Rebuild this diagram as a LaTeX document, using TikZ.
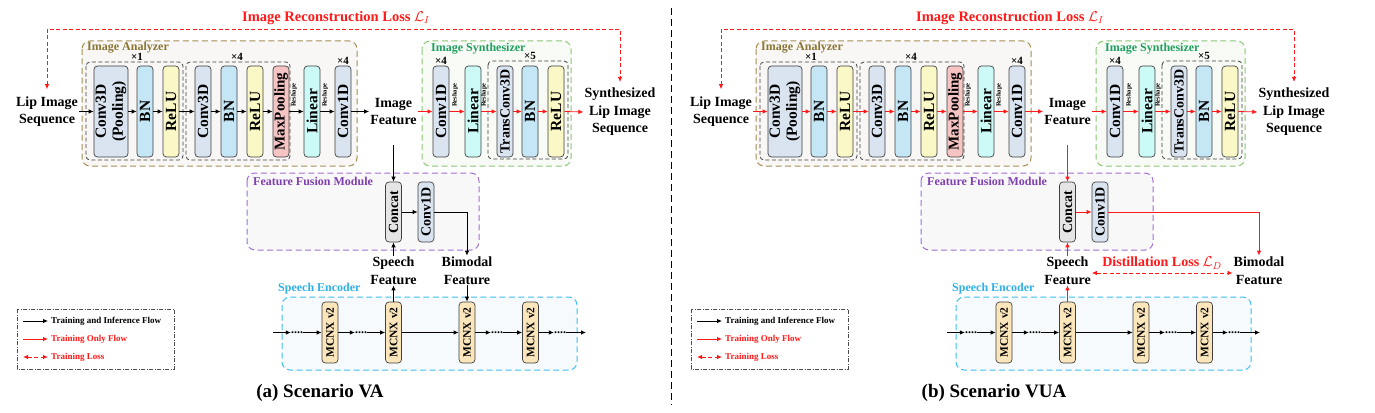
\documentclass[tikz,border=0pt]{standalone}
\usepackage{fontspec}
\setmainfont{Liberation Serif}
\usepackage{graphicx}
\usetikzlibrary{arrows.meta}
\definecolor{lossred}{RGB}{255,25,25}
\definecolor{convc}{HTML}{DAE3F0}
\definecolor{bnc}{HTML}{C5E6F5}
\definecolor{reluc}{HTML}{FAF8C6}
\definecolor{mpc}{HTML}{F7C4C4}
\definecolor{linc}{HTML}{CCFAF7}
\definecolor{catc}{HTML}{E5E5E5}
\definecolor{mcnxc}{HTML}{FBE6BC}
\definecolor{iacol}{HTML}{A38F55}
\definecolor{iatext}{HTML}{8A7535}
\definecolor{iafill}{HTML}{F8F7F5}
\definecolor{isbord}{HTML}{8CC878}
\definecolor{istext}{HTML}{20A060}
\definecolor{isfill}{HTML}{F7FAF5}
\definecolor{ffbord}{HTML}{A070D0}
\definecolor{fftext}{HTML}{8040B0}
\definecolor{fffill}{HTML}{F9F8F9}
\definecolor{sebord}{HTML}{40C0F0}
\definecolor{setext}{HTML}{30B0E8}
\definecolor{sefill}{HTML}{F6FAFC}
\newcommand\fsz[2]{\fontsize{#1}{#2}\selectfont}
\newcommand\vtext[1]{\rotatebox{90}{#1}}
\tikzset{
 blk/.style={draw=black!75, rounded corners=3.5pt, line width=0.7pt, inner sep=0pt, minimum width=16pt, minimum height=91pt, font=\bfseries\fsz{15.5}{17}},
 fblk/.style={blk, minimum height=60pt, font=\bfseries\fsz{14}{16}},
 mblk/.style={blk, minimum height=61pt, fill=mcnxc, font=\bfseries\fsz{11.5}{13}},
 grp/.style={draw=black!75, dash pattern=on 4pt off 2.5pt, rounded corners=4pt, line width=0.8pt},
 outer/.style={dash pattern=on 6pt off 3.5pt, rounded corners=8pt, line width=1pt},
 flow/.style={draw=black, line width=0.8pt, ->},
 tflow/.style={draw=lossred, line width=0.8pt, ->},
 loss/.style={draw=lossred, line width=0.8pt, dash pattern=on 4pt off 2.5pt, <->},
 txt/.style={font=\bfseries\fsz{14}{17.5}, align=center, inner sep=1pt},
 lbl/.style={font=\bfseries\fsz{12}{13}, anchor=west, inner sep=0pt},
 times/.style={font=\bfseries\fsz{11}{12}, anchor=south, inner sep=0.5pt},
 resh/.style={font=\bfseries\fsz{6.5}{7}, inner sep=0pt},
 dots/.style={font=\bfseries\fsz{12}{12}, inner sep=0pt},
 legtxt/.style={font=\bfseries\fsz{9}{10}, anchor=west, inner sep=0pt},
}
\newcommand\panel[3]{%
 \node[font=\bfseries\fsz{14.5}{16}, text=lossred, inner sep=0pt] (#1-losst) at (336,18) {Image Reconstruction Loss $\mathcal{L}_{I}$};
 \coordinate (#1-lossy) at (0,29);
 \draw[outer, draw=iacol, fill=iafill] (82,41) rectangle (357,166);
 \node[lbl, text=iatext] (#1-ial) at (87,48) {Image Analyzer};
 \draw[outer, draw=isbord, fill=isfill] (422,41) rectangle (571,166);
 \node[lbl, text=istext] (#1-isl) at (431,48.5) {Image Synthesizer};
 \draw[grp] (86,62) rectangle (183,160);
 \draw[grp] (186,62) rectangle (290,160);
 \draw[grp] (488,61) rectangle (568,159);
 \node[times] (#1-x1) at (137,61.5) {×1};
 \node[times] (#1-x4a) at (237,61.5) {×4};
 \node[times] (#1-x5) at (530,60.5) {×5};
 \node[blk, fill=convc, minimum width=32pt] (#1-c3dp) at (111,111.5) {\vtext{\begin{tabular}{@{}c@{}}Conv3D\\(Pooling)\end{tabular}}};
 \node[blk, fill=bnc] (#1-bn1) at (145,111.5) {\vtext{BN}};
 \node[blk, fill=reluc] (#1-relu1) at (171,111.5) {\vtext{ReLU}};
 \node[blk, fill=convc] (#1-c3d) at (203,111.5) {\vtext{Conv3D}};
 \node[blk, fill=bnc] (#1-bn2) at (229,111.5) {\vtext{BN}};
 \node[blk, fill=reluc] (#1-relu2) at (255,111.5) {\vtext{ReLU}};
 \node[blk, fill=mpc, font=\bfseries\fsz{15}{17}] (#1-mp) at (281,111.5) {\vtext{MaxPooling}};
 \node[blk, fill=linc] (#1-lin1) at (312,111.5) {\vtext{Linear}};
 \node[blk, fill=convc] (#1-c1d1) at (343,111.5) {\vtext{Conv1D}};
 \node[times] (#1-x4b) at (343,65) {×4};
 \node[blk, fill=convc] (#1-c1d2) at (441,111.5) {\vtext{Conv1D}};
 \node[times] (#1-x4c) at (441,65) {×4};
 \node[blk, fill=linc] (#1-lin2) at (473,111.5) {\vtext{Linear}};
 \node[blk, fill=convc, font=\bfseries\fsz{14}{16}] (#1-tc3d) at (505,111.5) {\vtext{TransConv3D}};
 \node[blk, fill=bnc] (#1-bn3) at (530,111.5) {\vtext{BN}};
 \node[blk, fill=reluc] (#1-relu3) at (556,111.5) {\vtext{ReLU}};
 \node[resh] (#1-r1) at (294,95) {\vtext{Reshape}};
 \node[resh] (#1-r2) at (325,95) {\vtext{Reshape}};
 \node[resh] (#1-r3) at (455,95) {\vtext{Reshape}};
 \node[resh] (#1-r4) at (484,95) {\vtext{Reshape}};
 \node[txt] (#1-lip) at (47,111.5) {Lip Image\\Sequence};
 \node[txt] (#1-if) at (393.5,111.5) {Image\\Feature};
 \node[txt] (#1-syn) at (620,112) {Synthesized\\Lip Image\\Sequence};
 \foreach \u/\v in {lip/c3dp, c3dp/bn1, bn1/relu1, relu1/c3d, c3d/bn2, bn2/relu2, relu2/mp, mp/lin1, lin1/c1d1, c1d1/if}
   \draw[#2] (#1-\u.east) -- (#1-\v.west);
 \foreach \u/\v in {if/c1d2, c1d2/lin2, lin2/tc3d, tc3d/bn3, bn3/relu3, relu3/syn}
   \draw[tflow] (#1-\u.east) -- (#1-\v.west);
 \draw[loss] ([yshift=6pt]#1-lip.north) -- (#1-lip.north |- #1-lossy) -| ([yshift=5pt]#1-syn.north);
 \coordinate (#1-ifb) at (393.5,145);
 % feature fusion module
 \draw[outer, draw=ffbord, fill=fffill] (247,173) rectangle (479,250);
 \node[lbl, text=fftext] (#1-ffl) at (253,181) {Feature Fusion Module};
 \node[fblk, fill=catc] (#1-cat) at (393.5,212) {\vtext{Concat}};
 \node[fblk, fill=convc] (#1-fc) at (426,212) {\vtext{Conv1D}};
 \node[txt] (#1-sp) at (393.5,270.5) {Speech\\Feature};
 % speech encoder
 \draw[outer, draw=sebord, fill=sefill] (282,297) rectangle (577,370);
 \node[lbl, text=setext] (#1-sel) at (278,289) {Speech Encoder};
 \node[mblk] (#1-m1) at (330,332.5) {\vtext{MCNX v2}};
 \node[mblk] (#1-m2) at (393.5,332.5) {\vtext{MCNX v2}};
 \node[mblk] (#1-m3) at (467,332.5) {\vtext{MCNX v2}};
 \node[mblk] (#1-m4) at (530.5,332.5) {\vtext{MCNX v2}};
 \coordinate (#1-cin) at (273,332.5);
 \coordinate (#1-cout) at (586,332.5);
 \node[dots] (#1-d1) at (297,332.5) {....};
 \node[dots] (#1-d2) at (361,332.5) {....};
 \node[dots] (#1-d3) at (497,332.5) {....};
 \node[dots] (#1-d4) at (560,332.5) {....};
 \draw[flow] (#1-cin) -- (#1-d1.west);
 \draw[flow] (#1-d1.east) -- (#1-m1.west);
 \draw[flow] (#1-m1.east) -- (#1-d2.west);
 \draw[flow] (#1-d2.east) -- (#1-m2.west);
 \draw[flow] (#1-m2.east) -- (#1-m3.west);
 \draw[flow] (#1-m3.east) -- (#1-d3.west);
 \draw[flow] (#1-d3.east) -- (#1-m4.west);
 \draw[flow] (#1-m4.east) -- (#1-d4.west);
 \draw[flow] (#1-d4.east) -- (#1-cout);
 % legend
 \draw[draw=black!70, line width=0.8pt, dash pattern=on 4pt off 1.5pt on 1pt off 1.5pt] (17,309) rectangle (174,369);
 \coordinate (#1-l1s) at (23,321); \coordinate (#1-l1e) at (48,321);
 \coordinate (#1-l2s) at (23,339); \coordinate (#1-l2e) at (48,339);
 \coordinate (#1-l3s) at (23,357); \coordinate (#1-l3e) at (48,357);
 \draw[flow] (#1-l1s) -- (#1-l1e);
 \draw[tflow] (#1-l2s) -- (#1-l2e);
 \draw[loss] (#1-l3s) -- (#1-l3e);
 \node[legtxt] (#1-l1t) at (51,321) {Training and Inference Flow};
 \node[legtxt, text=lossred] (#1-l2t) at (51,339) {Training Only Flow};
 \node[legtxt, text=lossred] (#1-l3t) at (51,357) {Training Loss};
 \node[font=\bfseries\fsz{19}{22}] (#1-cap) at (320,393) {#3};
}
\begin{document}
\begin{tikzpicture}[x=1pt, y=-1pt, >={Latex[length=5pt,width=4.5pt]}]
\fill[white] (0,0) rectangle (1375,412);
\useasboundingbox (0,0) rectangle (1375,412);
\begin{scope}
 \panel{a}{flow}{(a) Scenario VA}
 \draw[flow] (a-ifb) -- (a-cat.north);
 \draw[flow] (a-cat.east) -- (a-fc.west);
 \node[txt] (a-bi) at (467,270.5) {Bimodal\\Feature};
 \draw[flow] (a-fc.east) -| (a-bi.north);
 \draw[flow] (a-m2.north) -- (a-sp.south);
 \draw[flow] (a-sp.north) -- (a-cat.south);
 \draw[flow] (a-bi.south) -- (a-m3.north);
\end{scope}
\draw[line width=0.9pt, dash pattern=on 7pt off 4pt] (671,8) -- (671,405);
\begin{scope}[xshift=674pt]
 \panel{b}{tflow}{(b) Scenario VUA}
 \draw[tflow] (b-ifb) -- (b-cat.north);
 \draw[tflow] (b-cat.east) -- (b-fc.west);
 \node[txt] (b-bi) at (585,270.5) {Bimodal\\Feature};
 \draw[tflow] (b-fc.east) -| (b-bi.north);
 \draw[tflow] (b-m2.north) -- (b-sp.south);
 \draw[tflow] (b-sp.north) -- (b-cat.south);
 \draw[loss] ([yshift=-2.5pt]b-sp.east) -- ([yshift=-2.5pt]b-bi.west);
 \node[font=\bfseries\fsz{14}{16}, text=lossred, inner sep=0pt] (b-dl) at (488,263) {Distillation Loss $\mathcal{L}_{D}$};
\end{scope}
\end{tikzpicture}
\end{document}
